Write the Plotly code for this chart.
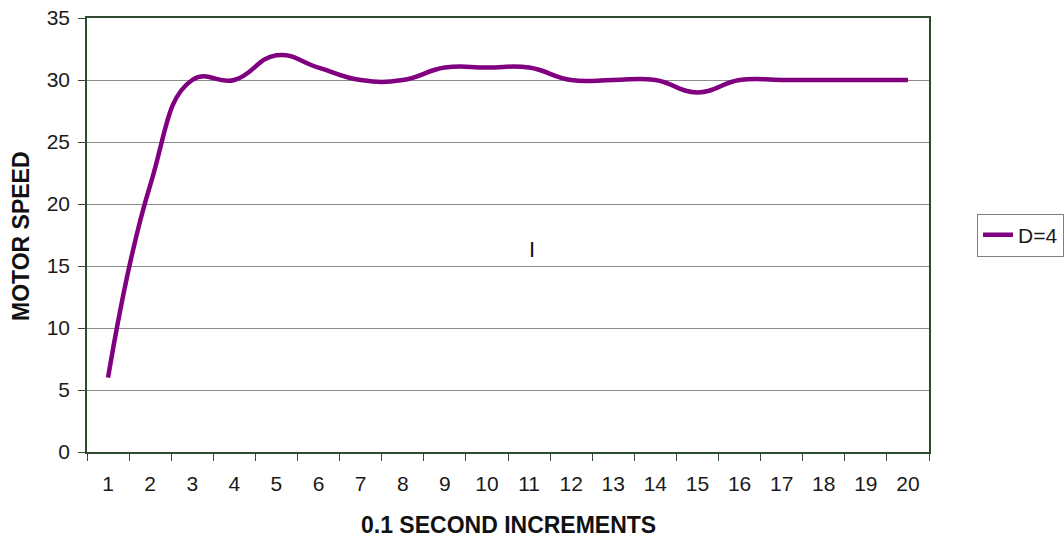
import plotly.graph_objects as go

# Motor speed response, sampled every 0.1 s
steps = [str(i) for i in range(1, 21)]
speed_d4 = [6, 21.5, 30, 30, 32, 31, 30, 30, 31, 31,
            31, 30, 30, 30, 29, 30, 30, 30, 30, 30]

y_ticks = [0, 5, 10, 15, 20, 25, 30, 35]

font_family = "Liberation Sans, Arial, sans-serif"
frame_color = "#2f4a2f"
text_color = "#1a1a1a"

# plot area in pixels
PL, PR, PT, PB = 87, 929, 18, 452
W, H = 1064, 543


def px_to_paper(px, py):
    return (px - PL) / (PR - PL), (PB - py) / (PB - PT)


fig = go.Figure()
fig.add_trace(go.Scatter(
    x=steps,
    y=speed_d4,
    mode="lines",
    name="D=4",
    line=dict(color="#800080", width=4.5, shape="spline", smoothing=1.3),
))

# axis titles
tx, ty = px_to_paper((PL + PR) / 2, 525)
fig.add_annotation(
    x=tx, y=ty, xref="paper", yref="paper", showarrow=False,
    text="<b>0.1 SECOND INCREMENTS</b>",
    font=dict(family=font_family, size=23, color="#111111"),
    xanchor="center", yanchor="middle",
)
tx, ty = px_to_paper(21, 236)
fig.add_annotation(
    x=tx, y=ty, xref="paper", yref="paper", showarrow=False,
    text="<b>MOTOR SPEED</b>", textangle=-90,
    font=dict(family=font_family, size=23, color="#111111"),
    xanchor="center", yanchor="middle",
)

# stray glyph inside the plot
tx, ty = px_to_paper(532, 249)
fig.add_annotation(
    x=tx, y=ty, xref="paper", yref="paper", showarrow=False,
    text="I", font=dict(family=font_family, size=22, color="#111111"),
    xanchor="center", yanchor="middle",
)

fig.update_layout(
    width=W,
    height=H,
    margin=dict(l=PL, r=W - PR, t=PT, b=H - PB, autoexpand=False),
    paper_bgcolor="white",
    plot_bgcolor="white",
    font=dict(family=font_family, size=21, color=text_color),
    showlegend=True,
    legend=dict(
        x=(977 - PL) / (PR - PL), y=px_to_paper(0, 235)[1],
        xanchor="left", yanchor="middle",
        bordercolor="#808080", borderwidth=1,
        font=dict(family=font_family, size=21, color=text_color),
        itemwidth=30,
        tracegroupgap=0,
    ),
    xaxis=dict(
        type="category",
        range=[-0.5, 19.5],
        tickson="boundaries",
        ticks="outside",
        ticklen=7,
        tickcolor=frame_color,
        ticklabelstandoff=12,
        showgrid=False,
        showline=True,
        linecolor=frame_color,
        linewidth=1.5,
        mirror=True,
        tickfont=dict(size=21),
    ),
    yaxis=dict(
        range=[0, 35],
        tickvals=y_ticks,
        ticks="outside",
        ticklen=7,
        tickcolor=frame_color,
        ticklabelstandoff=4,
        showgrid=True,
        gridcolor="#8c8c8c",
        gridwidth=1,
        zeroline=False,
        showline=True,
        linecolor=frame_color,
        linewidth=1.5,
        mirror=True,
        tickfont=dict(size=21),
    ),
)

fig.write_html("out.html")
